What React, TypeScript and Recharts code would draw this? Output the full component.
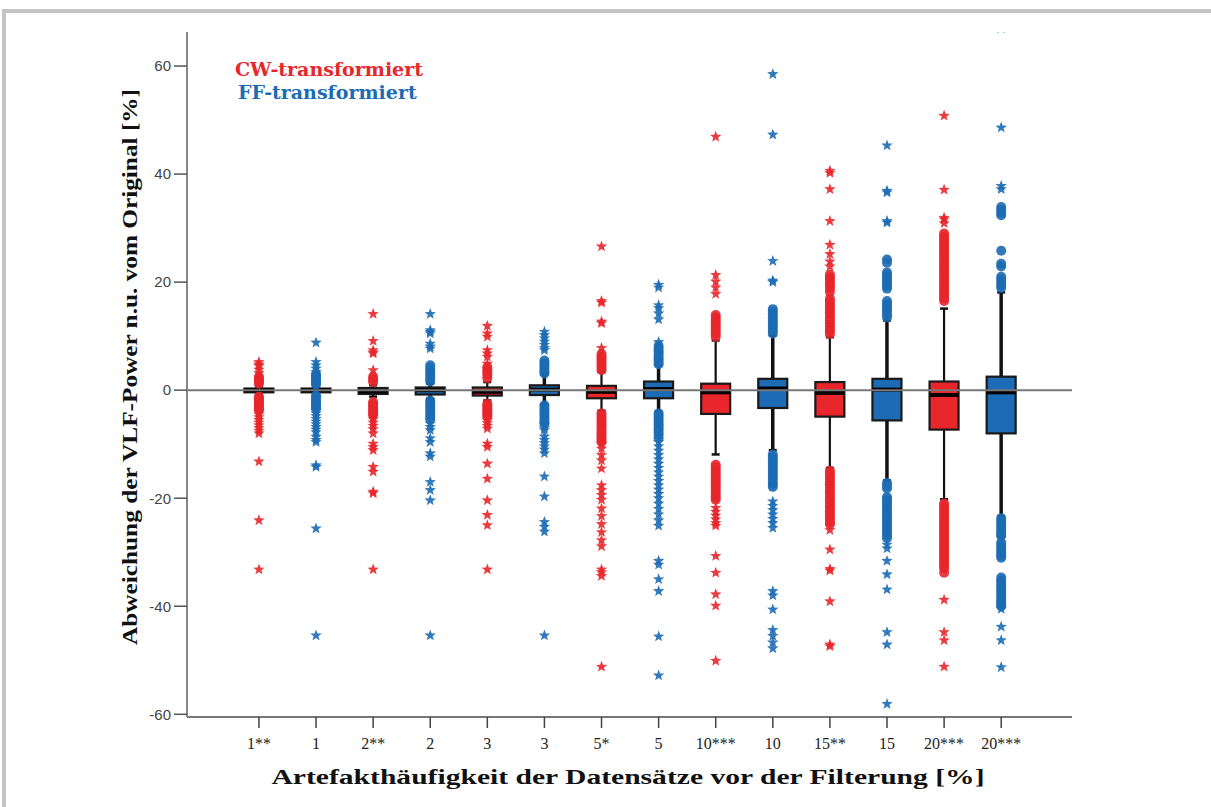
import React from 'react';
import { ComposedChart, Bar, Scatter, XAxis, YAxis, ReferenceLine, Label } from 'recharts';

const RED = '#E8262B';
const BLUE = '#1C6BB4';

const categories = ['1**', '1', '2**', '2', '3', '3', '5*', '5', '10***', '10', '15**', '15', '20***', '20***'];
const groups = ['CW', 'FF', 'CW', 'FF', 'CW', 'FF', 'CW', 'FF', 'CW', 'FF', 'CW', 'FF', 'CW', 'FF'];

const q1Values = [-0.4, -0.4, -0.7, -0.8, -1.0, -0.9, -1.5, -1.5, -4.4, -3.3, -4.9, -5.6, -7.3, -8.0];
const q3Values = [0.3, 0.3, 0.4, 0.5, 0.5, 0.9, 0.8, 1.6, 1.2, 2.1, 1.5, 2.1, 1.6, 2.5];
const medianValues = [0, 0, -0.2, 0, -0.3, 0.1, -0.3, 0.2, -0.4, 0.3, -0.5, 0.1, -0.9, -0.4];
const whiskerLow = [-0.6, -0.6, -1.2, -1.6, -1.9, -2.6, -3.8, -4.0, -11.9, -11.1, -14.4, -16.7, -20.2, -23.3];
const whiskerHigh = [0.6, 0.6, 0.9, 1.2, 1.5, 2.9, 3.4, 4.6, 9.2, 10.1, 9.8, 12.9, 15.1, 18.1];

const circleOutliers: number[][] = [
  [2.5, 2.1, 1.8, 1.5, 1.2, -1.2, -1.5, -1.8, -2.1, -2.4, -2.7, -3.0, -3.3, -3.7],
  [3.0, 2.6, 2.2, 1.8, 1.4, 1.0, -1.0, -1.4, -1.8, -2.2, -2.6, -3.0, -3.4],
  [2.5, 2.0, 1.5, -2.2, -2.6, -3.0, -3.4, -3.8, -4.2, -4.6],
  [4.6, 4.1, 3.6, 3.1, 2.6, 2.1, 1.6, -1.9, -2.4, -2.9, -3.4, -3.9, -4.4, -4.9, -5.4],
  [4.3, 3.8, 3.3, 2.8, 2.2, -2.5, -2.9, -3.3, -3.7, -4.1, -4.5, -4.9],
  [5.5, 5.0, 4.5, 4.0, 3.5, 3.1, -2.8, -3.3, -3.8, -4.3, -4.8, -5.3, -5.8, -6.2],
  [6.7, 6.2, 5.7, 5.2, 4.7, 4.2, 3.7, -4.3, -4.8, -5.3, -5.8, -6.3, -6.8, -7.3, -7.8, -8.3, -8.8, -9.2, -9.6],
  [8.2, 7.7, 7.2, 6.7, 6.2, 5.7, 5.2, 4.8, -4.3, -4.8, -5.3, -5.8, -6.3, -6.8, -7.3, -7.8, -8.3, -8.9],
  [13.9, 13.4, 12.9, 12.4, 11.9, 11.4, 10.9, 10.4, 9.9, -13.8, -14.3, -14.8, -15.3, -15.8, -16.3, -16.8, -17.3, -17.8, -18.3, -18.8, -19.3, -19.8, -20.3],
  [15.0, 14.5, 14.0, 13.5, 13.0, 12.5, 12.0, 11.5, 11.0, 10.5, -11.9, -12.4, -12.9, -13.4, -13.9, -14.4, -14.9, -15.4, -15.9, -16.4, -16.9, -17.4, -17.9],
  [21.4, 20.9, 20.4, 19.9, 19.4, 18.9, 18.2, 16.9, 16.4, 15.9, 15.4, 14.9, 14.4, 13.9, 13.4, 12.9, 12.4, 11.9, 11.4, 10.9, 10.4,
    -14.9, -15.4, -15.9, -16.4, -16.9, -17.4, -17.9, -18.4, -18.9, -19.4, -19.9, -20.4, -20.9, -21.4, -21.9, -22.4, -22.9, -23.4, -23.9, -24.4, -24.8],
  [24.2, 23.6, 21.8, 21.3, 20.8, 20.3, 19.8, 19.3, 18.8, 16.5, 16.0, 15.5, 15.0, 14.5, 14.0, 13.5,
    -17.2, -17.7, -18.2, -19.8, -20.3, -20.8, -21.3, -21.8, -22.3, -22.9, -23.4, -23.9, -24.4, -24.9, -25.4, -25.9, -26.4, -26.9, -27.4],
  [29.0, 28.5, 28.0, 27.5, 27.0, 26.5, 26.0, 25.5, 25.0, 24.5, 24.0, 23.5, 23.0, 22.5, 22.0, 21.5, 21.0, 20.5, 20.0, 19.5, 19.0, 18.5, 18.0, 17.5, 17.0, 16.5,
    -21.0, -21.5, -22.0, -22.5, -23.0, -23.5, -24.0, -24.5, -25.0, -25.5, -26.0, -26.5, -27.0, -27.5, -28.0, -28.5, -29.0, -29.5, -30.0, -30.5, -31.0, -31.5, -32.0, -32.5, -33.0, -33.8],
  [33.9, 33.4, 32.9, 32.4, 25.8, 23.4, 22.9, 21.0, 20.5, 19.9, 19.4, 18.9,
    -23.7, -24.2, -24.7, -25.2, -25.7, -26.2, -26.7, -27.0, -28.2, -28.7, -29.2, -29.7, -30.2, -30.6, -31.0, -34.7, -35.2, -35.7, -36.2, -36.7, -37.2, -37.7, -38.2, -38.7, -39.2, -39.6, -40.0],
];

const starOutliers: number[][] = [
  [5.2, 4.8, 4.5, 3.8, 3.2, -4.0, -4.5, -5.0, -5.5, -6.0, -6.5, -7.0, -7.5, -8.0, -13.2, -24.1, -33.2],
  [8.8, 5.2, 4.6, 4.0, 3.4, -3.8, -4.3, -4.8, -5.3, -5.8, -6.3, -6.8, -7.3, -7.8, -8.6, -9.2, -9.6, -13.9, -14.2, -25.6, -45.4],
  [14.1, 9.1, 7.4, 7.0, 6.8, 3.7, -4.9, -5.4, -6.0, -6.6, -7.2, -8.0, -9.9, -10.5, -11.1, -14.2, -15.1, -18.8, -19.1, -33.2],
  [14.1, 11.1, 10.8, 10.5, 8.6, 8.1, 7.7, -6.2, -6.8, -7.4, -8.9, -9.6, -11.7, -12.3, -17.0, -18.5, -20.4, -45.4],
  [11.9, 10.5, 9.9, 7.4, 6.8, 6.2, 4.9, -5.6, -6.1, -6.6, -7.1, -9.9, -10.5, -13.6, -16.4, -20.4, -23.1, -25.0, -33.2],
  [10.8, 10.2, 9.6, 9.0, 8.4, 7.8, 7.4, -6.5, -7.0, -7.4, -8.6, -9.2, -9.8, -10.4, -11.0, -11.7, -16.0, -19.7, -24.4, -25.3, -26.2, -45.4],
  [26.6, 16.5, 16.2, 12.7, 12.4, 7.8, -10.0, -10.8, -12.0, -13.0, -14.5, -17.6, -18.5, -19.4, -20.3, -21.9, -23.3, -24.8, -26.3, -27.8, -28.9, -33.2, -33.7, -34.4, -51.2],
  [19.5, 19.0, 15.7, 15.2, 14.2, 13.1, 8.9, -9.6, -10.4, -11.2, -12.0, -12.8, -13.6, -14.4, -15.2, -16.0, -16.8, -17.6, -18.4, -19.2, -20.0, -21.0, -22.0, -23.0, -24.1, -25.1, -31.6, -32.3, -35.0, -37.2, -45.6, -52.8],
  [46.9, 21.3, 20.1, 19.0, 17.8, -21.8, -22.5, -23.2, -23.9, -24.6, -25.1, -30.7, -33.8, -37.8, -39.9, -50.1],
  [58.5, 47.3, 23.9, 20.3, 20.0, -20.6, -21.4, -22.2, -23.0, -23.8, -24.6, -25.5, -37.2, -38.0, -40.6, -44.4, -45.5, -46.7, -47.8],
  [40.6, 40.2, 37.2, 31.3, 26.9, 25.2, 23.8, 22.9, -25.9, -29.5, -33.1, -33.4, -39.1, -47.1, -47.4],
  [45.3, 36.9, 36.6, 31.3, 31.0, -28.6, -29.3, -31.6, -34.1, -36.9, -44.8, -47.1, -58.1],
  [50.8, 37.1, 31.9, 31.6, 30.9, -38.8, -44.8, -46.3, -51.2],
  [67.0, 48.6, 37.8, 37.2, -40.5, -43.8, -46.3, -51.3],
];

const yTicks = [-60, -40, -20, 0, 20, 40, 60];
const xTicks = categories.map((_, i) => i);

const boxData = categories.map((c, i) => ({
  x: i,
  label: c,
  group: groups[i],
  whisker: [whiskerLow[i], whiskerHigh[i]],
  q1: q1Values[i],
  q3: q3Values[i],
  median: medianValues[i],
}));

const buildPoints = (src: number[][], group: string) =>
  src.flatMap((vals, i) => (groups[i] === group ? vals.map((v) => ({ x: i, y: v })) : []));

const cwCircles = buildPoints(circleOutliers, 'CW');
const ffCircles = buildPoints(circleOutliers, 'FF');
const cwStars = buildPoints(starOutliers, 'CW');
const ffStars = buildPoints(starOutliers, 'FF');

const starPath = (cx: number, cy: number, ro: number, ri: number) => {
  let d = '';
  for (let k = 0; k < 10; k++) {
    const r = k % 2 === 0 ? ro : ri;
    const a = -Math.PI / 2 + (k * Math.PI) / 5;
    d += (k === 0 ? 'M' : 'L') + (cx + r * Math.cos(a)).toFixed(2) + ',' + (cy + r * Math.sin(a)).toFixed(2);
  }
  return d + 'Z';
};

const makeStar = (color: string) => (props: any) => {
  const { cx, cy } = props;
  if (cx == null || cy == null) return <g />;
  return <path d={starPath(cx, cy, 6, 2.5)} fill={color} fillOpacity={0.9} />;
};

const makeCircle = (color: string) => (props: any) => {
  const { cx, cy } = props;
  if (cx == null || cy == null) return <g />;
  return <circle cx={cx} cy={cy} r={5} fill={color} fillOpacity={0.9} />;
};

const BoxShape = (props: any) => {
  const { x, y, width, height, payload } = props;
  if (x == null || y == null || !payload) return <g />;
  const top = Math.min(y, y + height);
  const h = Math.abs(height);
  const [lo, hi] = payload.whisker;
  const py = (v: number) => top + (h * (hi - v)) / (hi - lo);
  const cx = x + width / 2;
  const isRed = payload.group === 'CW';
  const fill = isRed ? RED : BLUE;
  const wW = isRed ? 2.2 : 3.5;
  const yq3 = py(payload.q3);
  const yq1 = py(payload.q1);
  const ym = py(payload.median);
  return (
    <g>
      <line x1={cx} x2={cx} y1={top} y2={top + h} stroke="#111" strokeWidth={wW} />
      <line x1={cx - 4} x2={cx + 4} y1={top} y2={top} stroke="#111" strokeWidth={2.5} />
      <line x1={cx - 4} x2={cx + 4} y1={top + h} y2={top + h} stroke="#111" strokeWidth={2.5} />
      <rect x={x} y={yq3} width={width} height={Math.max(yq1 - yq3, 0.5)} fill={fill} stroke="#1a1a1a" strokeWidth={2.2} />
      <line x1={x} x2={x + width} y1={ym} y2={ym} stroke="#000" strokeWidth={4} />
    </g>
  );
};

const serifFont = '"Liberation Serif", "Times New Roman", serif';
const sansFont = '"Liberation Sans", Arial, sans-serif';

const YTitle = (props: any) => {
  const vb = props.viewBox || {};
  const cx = vb.x + vb.width / 2 - 27;
  const cy = 367;
  return (
    <text x={cx} y={cy} transform={`rotate(-90 ${cx} ${cy})`} textAnchor="middle" dominantBaseline="central"
      fontFamily={serifFont} fontWeight="bold" fontSize={21} fill="#111" textLength={556} lengthAdjust="spacingAndGlyphs">
      Abweichung der VLF-Power n.u. vom Original [%]
    </text>
  );
};

const XTitle = (props: any) => {
  const vb = props.viewBox || {};
  const cx = 628;
  const cy = vb.y + 60;
  return (
    <text x={cx} y={cy} textAnchor="middle" dominantBaseline="central"
      fontFamily={serifFont} fontWeight="bold" fontSize={21} fill="#111" textLength={713} lengthAdjust="spacingAndGlyphs">
      Artefakthäufigkeit der Datensätze vor der Filterung [%]
    </text>
  );
};

export default function App() {
  return (
    <div style={{ position: 'absolute', left: 0, top: 0, width: 1211, height: 807, background: '#fff', overflow: 'hidden' }}>
      <div style={{ position: 'absolute', left: 2, top: 9, width: 1300, height: 900, borderTop: '4px solid #C4C4C4', borderLeft: '4px solid #C4C4C4' }} />
      <div style={{ position: 'absolute', left: 0, top: 0 }}>
        <ComposedChart width={1211} height={807} data={boxData} margin={{ top: 32, right: 139, bottom: 0, left: 127 }}>
          <XAxis
            type="number"
            dataKey="x"
            domain={[-1.26, 14.24]}
            ticks={xTicks}
            interval={0}
            allowDataOverflow
            tickFormatter={(v: number) => categories[v] ?? ''}
            height={90}
            tickSize={11}
            tickMargin={10}
            axisLine={{ stroke: '#777', strokeWidth: 2 }}
            tickLine={{ stroke: '#444', strokeWidth: 1.5 }}
            tick={{ fill: '#222', fontFamily: serifFont, fontSize: 16 }}
          >
            <Label content={<XTitle />} />
          </XAxis>
          <YAxis
            type="number"
            dataKey="y"
            domain={[-60.5, 66.3]}
            ticks={yTicks}
            interval={0}
            allowDataOverflow
            width={60}
            tickSize={13}
            tickMargin={3}
            axisLine={{ stroke: '#888', strokeWidth: 2 }}
            tickLine={{ stroke: '#555', strokeWidth: 1.5 }}
            tick={{ fill: '#444', fontFamily: sansFont, fontSize: 15 }}
          >
            <Label content={<YTitle />} />
          </YAxis>
          <ReferenceLine y={0} stroke="#777" strokeWidth={2} />
          <Bar dataKey="whisker" barSize={29} shape={<BoxShape />} isAnimationActive={false} />
          <Scatter name="CW-transformiert" data={cwCircles} shape={makeCircle(RED)} isAnimationActive={false} />
          <Scatter name="CW-transformiert" data={cwStars} shape={makeStar(RED)} isAnimationActive={false} />
          <Scatter name="FF-transformiert" data={ffCircles} shape={makeCircle(BLUE)} isAnimationActive={false} />
          <Scatter name="FF-transformiert" data={ffStars} shape={makeStar(BLUE)} isAnimationActive={false} />
        </ComposedChart>
      </div>
      <div style={{ position: 'absolute', left: 235, top: 58, fontFamily: '"DejaVu Serif", serif', fontWeight: 'bold', fontSize: 19, lineHeight: '23px' }}>
        <div style={{ color: RED }}>CW-transformiert</div>
        <div style={{ color: BLUE, marginLeft: 3 }}>FF-transformiert</div>
      </div>
    </div>
  );
}
